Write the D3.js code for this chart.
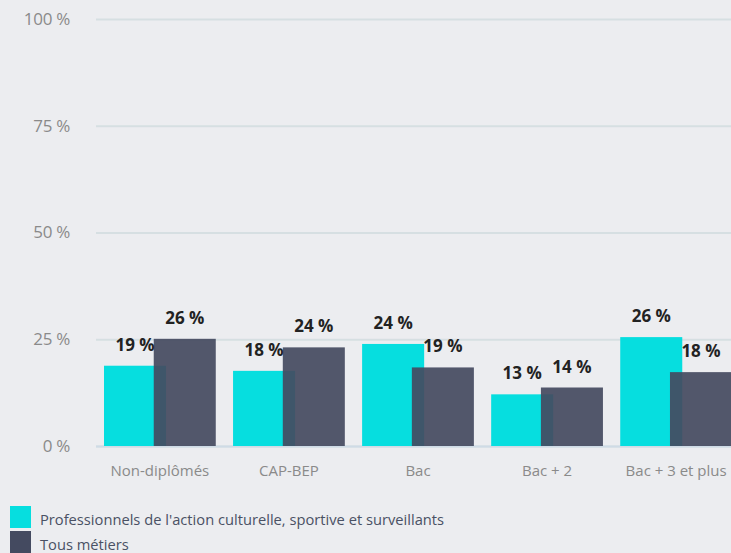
<!DOCTYPE html>
<html>
<head>
<meta charset="utf-8">
<script src="https://cdn.jsdelivr.net/npm/d3@7"></script>
<style>
  html, body { margin: 0; padding: 0; background: #ecedf0; }
  #chart { width: 731px; height: 553px; overflow: hidden; }
  text { font-family: "Open Sans", "Noto Sans", sans-serif; }
</style>
</head>
<body>
<div id="chart"></div>
<script>
// Data
const categories = ["Non-diplômés", "CAP-BEP", "Bac", "Bac + 2", "Bac + 3 et plus"];
const seriesNames = ["Professionnels de l'action culturelle, sportive et surveillants", "Tous métiers"];
const proValues = [18.8, 17.6, 23.9, 12.1, 25.5];
const allValues = [25.1, 23.1, 18.4, 13.7, 17.3];
const proLabels = ["19 %", "18 %", "24 %", "13 %", "26 %"];
const allLabels = ["26 %", "24 %", "19 %", "14 %", "18 %"];
const yTicks = [0, 25, 50, 75, 100];
const colors = ["#06dedf", "#444a60"];

const width = 731;
const height = 553;

const svg = d3
  .select("#chart")
  .append("svg")
  .attr("width", width)
  .attr("height", height);

// Scales
const x = d3
  .scaleBand()
  .domain(categories)
  .range([96, 740])
  .paddingInner(0.134)
  .paddingOuter(0.062);

const y = d3.scaleLinear().domain([0, 100]).range([446, 19]);

const barW = x.bandwidth() * 0.555;

// Grid lines + y labels
const yAxis = svg
  .append("g")
  .attr("transform", "translate(96,0)")
  .call(
    d3
      .axisLeft(y)
      .tickValues(yTicks)
      .tickSize(-(width - 96))
      .tickPadding(26)
      .tickFormat((d) => d + " %")
  );
yAxis.select(".domain").remove();
yAxis
  .selectAll(".tick line")
  .attr("stroke", "#d6dfe2")
  .attr("stroke-width", 2);
yAxis
  .selectAll(".tick text")
  .attr("fill", "#8a8a8a")
  .attr("font-size", "17px")
  .style("letter-spacing", "-0.3px");

// Baseline slightly bluer
svg
  .append("line")
  .attr("x1", 96)
  .attr("x2", width)
  .attr("y1", y(0) + 0.5)
  .attr("y2", y(0) + 0.5)
  .attr("stroke", "#cfdbe6")
  .attr("stroke-width", 2);

// Bars: first series then second series overlapping on top
const groups = svg
  .selectAll(".grp")
  .data(categories)
  .enter()
  .append("g")
  .attr("class", "grp");

groups
  .append("rect")
  .attr("x", (d) => x(d))
  .attr("width", barW)
  .attr("y", (d, i) => y(proValues[i]))
  .attr("height", (d, i) => y(0) - y(proValues[i]))
  .attr("fill", colors[0]);

groups
  .append("rect")
  .attr("x", (d) => x(d) + x.bandwidth() - barW)
  .attr("width", barW)
  .attr("y", (d, i) => y(allValues[i]))
  .attr("height", (d, i) => y(0) - y(allValues[i]))
  .attr("fill", colors[1])
  .attr("fill-opacity", 0.92);

// Value labels
groups
  .append("text")
  .attr("x", (d) => x(d) + barW / 2)
  .attr("y", (d, i) => y(proValues[i]) - 15)
  .attr("text-anchor", "middle")
  .attr("font-size", "17px")
  .attr("font-weight", "bold")
  .attr("fill", "#222")
  .text((d, i) => proLabels[i]);

groups
  .append("text")
  .attr("x", (d) => x(d) + x.bandwidth() - barW / 2)
  .attr("y", (d, i) => y(allValues[i]) - 15)
  .attr("text-anchor", "middle")
  .attr("font-size", "17px")
  .attr("font-weight", "bold")
  .attr("fill", "#222")
  .text((d, i) => allLabels[i]);

// Category labels
const xAxis = svg
  .append("g")
  .attr("transform", `translate(0,${y(0)})`)
  .call(d3.axisBottom(x).tickSize(0).tickPadding(19));
xAxis.select(".domain").remove();
xAxis
  .selectAll(".tick text")
  .attr("fill", "#8a8a8a")
  .attr("font-size", "15px");

// Legend
const legend = svg
  .selectAll(".legend")
  .data(seriesNames)
  .enter()
  .append("g")
  .attr("class", "legend")
  .attr("transform", (d, i) => `translate(10,${506 + i * 25})`);

legend
  .append("rect")
  .attr("width", 21)
  .attr("height", 22)
  .attr("fill", (d, i) => colors[i]);

legend
  .append("text")
  .attr("x", 30)
  .attr("y", 19)
  .attr("font-size", "14.7px")
  .attr("fill", "#4a5164")
  .text((d) => d);
</script>
</body>
</html>
